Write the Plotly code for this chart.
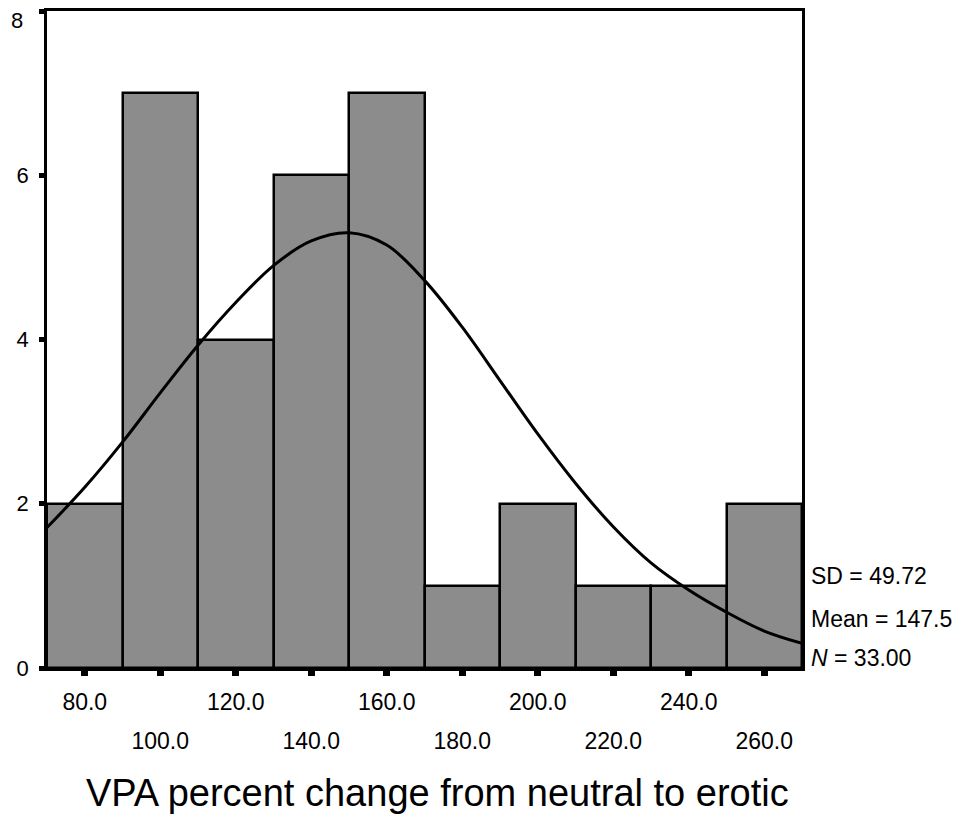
import plotly.graph_objects as go

# Histogram data (bin centres, counts)
bin_centers = [80, 100, 120, 140, 160, 180, 200, 220, 240, 260]
counts = [2, 7, 4, 6, 7, 1, 2, 1, 1, 2]

# Fitted normal curve
curve_x = [70, 80, 90, 100, 110, 120, 130, 140, 150, 160, 170, 180, 190, 200, 210, 220, 230, 240, 250, 260, 270]
curve_y = [1.71, 2.2, 2.75, 3.35, 3.93, 4.45, 4.9, 5.2, 5.3, 5.15, 4.72, 4.15, 3.5, 2.85, 2.25, 1.72, 1.28, 0.95, 0.68, 0.45, 0.30]

row1_vals = [80, 120, 160, 200, 240]
row1_text = ["80.0", "120.0", "160.0", "200.0", "240.0"]
row2_vals = [100, 140, 180, 220, 260]
row2_text = ["100.0", "140.0", "180.0", "220.0", "260.0"]

y_ticks = [0, 2, 4, 6, 8]
y_labels = ["0", "2", "4", "6", "8"]

stats_lines = ["SD = 49.72", "Mean = 147.5", "<i>N</i> = 33.00"]
x_title = "VPA percent change from neutral to erotic"

FONT = "Liberation Sans, Arial, sans-serif"

# page offset (browser body margin) is 8px
W, H = 955, 825
L, T = 39, 3
PW, PH = 755, 657

fig = go.Figure()
fig.add_trace(go.Bar(
    x=bin_centers, y=counts, width=20,
    marker=dict(color="#8c8c8c", line=dict(color="black", width=2.5)),
    showlegend=False,
))
fig.add_trace(go.Scatter(
    x=curve_x, y=curve_y, mode="lines",
    line=dict(color="black", width=3, shape="spline"),
    showlegend=False,
))
# invisible trace for the second x axis (lower row of labels)
fig.add_trace(go.Scatter(x=[70, 270], y=[0, 0], xaxis="x2", mode="markers",
                         marker=dict(opacity=0), showlegend=False, hoverinfo="skip"))

row1_lookup = dict(zip(row1_vals, row1_text))
top_label = y_labels[-1]

fig.update_layout(
    width=W, height=H,
    margin=dict(l=L, r=W - L - PW, t=T, b=H - T - PH),
    paper_bgcolor="white", plot_bgcolor="white",
    bargap=0,
    font=dict(family=FONT, color="black", size=23),
    xaxis=dict(
        range=[70, 270], showgrid=False, zeroline=False, automargin=False,
        showline=True, linecolor="black", linewidth=2.5, mirror=True,
        tickvals=bin_centers,
        ticktext=[row1_lookup.get(v, "") for v in bin_centers],
        ticks="outside", ticklen=5, tickwidth=7, tickcolor="black",
        ticklabelstandoff=7, ticklabeloverflow="allow",
        tickfont=dict(size=23, family=FONT),
    ),
    xaxis2=dict(
        range=[70, 270], overlaying="x", side="bottom", anchor="y", automargin=False,
        showgrid=False, zeroline=False, showline=False,
        tickvals=row2_vals, ticktext=row2_text, ticks="",
        ticklabelstandoff=57, ticklabeloverflow="allow",
        tickfont=dict(size=23, family=FONT),
    ),
    yaxis=dict(
        range=[0, 8], showgrid=False, zeroline=False, automargin=False,
        showline=True, linecolor="black", linewidth=2.5, mirror=True,
        tickvals=y_ticks, ticktext=y_labels[:-1] + [""],
        ticks="outside", ticklen=5, tickwidth=5, tickcolor="black",
        ticklabelstandoff=6, ticklabeloverflow="allow",
        tickfont=dict(size=22, family=FONT),
    ),
)

# top y label sits a little below its tick in the reference
fig.add_annotation(text=top_label, xref="paper", yref="paper",
                   x=(25 - 8 - L) / PW, y=1 - (20 - 8 - T) / PH,
                   xanchor="right", yanchor="middle", showarrow=False,
                   font=dict(size=22, family=FONT, color="black"))

stat_y = [0.140, 0.0746, 0.0152]
for txt, yy in zip(stats_lines, stat_y):
    fig.add_annotation(text=txt, xref="paper", yref="paper", x=1.0095, y=yy,
                       xanchor="left", yanchor="middle", showarrow=False,
                       font=dict(size=23, family=FONT, color="black"))

fig.add_annotation(text=x_title, xref="paper", yref="paper",
                   x=(437 - 47) / PW, y=-(793 - 668) / PH,
                   xanchor="center", yanchor="middle", showarrow=False,
                   font=dict(size=38, family=FONT, color="black"))

fig.write_html("out.html")
